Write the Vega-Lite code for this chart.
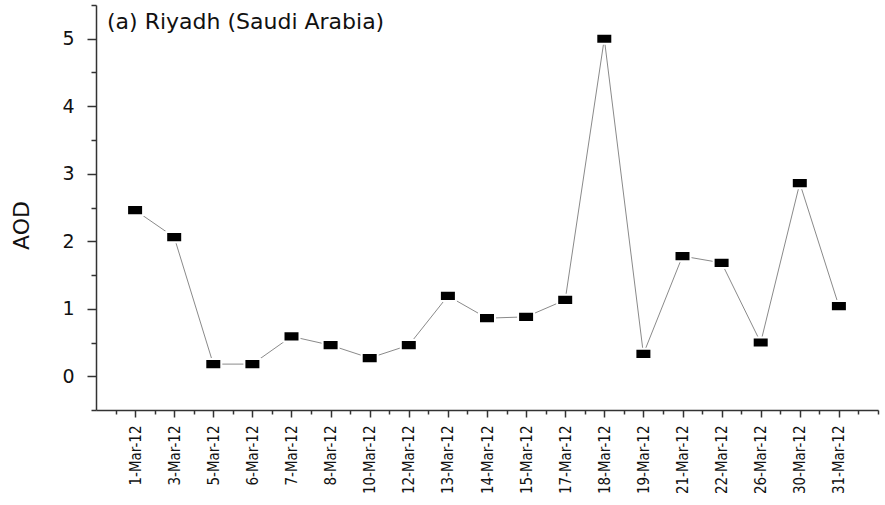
{
  "$schema": "https://vega.github.io/schema/vega-lite/v6.json",
  "autosize": "none",
  "width": 782,
  "height": 405,
  "padding": {"left": 96, "top": 5, "right": 7, "bottom": 95},
  "background": "white",
  "config": {
    "view": {"stroke": null},
    "axis": {"domainColor": "#333", "tickColor": "#333", "domainWidth": 1.5, "tickWidth": 1.5, "grid": false, "labelColor": "#111", "titleColor": "#111"}
  },
  "title": {
    "text": "(a) Riyadh (Saudi Arabia)",
    "anchor": "start",
    "frame": "group",
    "dx": 11,
    "dy": 34,
    "font": "DejaVu Sans",
    "fontSize": 22,
    "fontWeight": "normal",
    "color": "#111"
  },
  "layer": [
    {
      "data": {"values": [
        {"date": "1-Mar-12", "aod": 2.46},
        {"date": "3-Mar-12", "aod": 2.06},
        {"date": "5-Mar-12", "aod": 0.18},
        {"date": "6-Mar-12", "aod": 0.18},
        {"date": "7-Mar-12", "aod": 0.59},
        {"date": "8-Mar-12", "aod": 0.46},
        {"date": "10-Mar-12", "aod": 0.27},
        {"date": "12-Mar-12", "aod": 0.46},
        {"date": "13-Mar-12", "aod": 1.19},
        {"date": "14-Mar-12", "aod": 0.86},
        {"date": "15-Mar-12", "aod": 0.88},
        {"date": "17-Mar-12", "aod": 1.13},
        {"date": "18-Mar-12", "aod": 5.0},
        {"date": "19-Mar-12", "aod": 0.33},
        {"date": "21-Mar-12", "aod": 1.78},
        {"date": "22-Mar-12", "aod": 1.68},
        {"date": "26-Mar-12", "aod": 0.5},
        {"date": "30-Mar-12", "aod": 2.86},
        {"date": "31-Mar-12", "aod": 1.04}
      ]},
      "encoding": {
        "x": {
          "field": "date", "type": "ordinal", "sort": null,
          "scale": {"type": "point", "padding": 1},
          "axis": {
            "title": null, "labelAngle": -90, "tickSize": 7,
            "labelFont": "Liberation Sans Narrow, DejaVu Sans Condensed, Roboto Condensed, Roboto, sans-serif", "labelFontSize": 15,
            "labelPadding": 8
          }
        },
        "y": {
          "field": "aod", "type": "quantitative",
          "scale": {"domain": [-0.5, 5.5], "nice": false, "zero": false},
          "axis": {
            "title": "AOD",
            "titleFont": "DejaVu Sans", "titleFontSize": 22, "titleFontWeight": "normal",
            "titleX": -63, "titleY": 220,
            "values": [-0.5, 0, 0.5, 1, 1.5, 2, 2.5, 3, 3.5, 4, 4.5, 5, 5.5],
            "labelExpr": "datum.value % 1 === 0 ? '' + datum.value : ''",
            "tickSize": {"condition": {"test": "datum.value % 1 === 0", "value": 9}, "value": 5},
            "labelFont": "DejaVu Sans", "labelFontSize": 19, "labelPadding": 13
          }
        }
      },
      "layer": [
        {"mark": {"type": "line", "color": "#8a8a8a", "strokeWidth": 1}},
        {"mark": {"type": "point", "shape": "M-1,-0.64L1,-0.64L1,0.64L-1,0.64Z", "size": 256, "filled": true, "color": "black", "opacity": 1, "stroke": "white", "strokeWidth": 2}}
      ]
    },
    {
      "data": {"values": [{"m": -1}, {"m": 19}]},
      "mark": {"type": "point", "opacity": 0},
      "encoding": {
        "x": {
          "field": "m", "type": "quantitative",
          "scale": {"domain": [-1, 19], "nice": false, "zero": false},
          "axis": {
            "title": null, "labels": false, "domain": false, "tickSize": 4, "orient": "bottom",
            "values": [-0.5, 0.5, 1.5, 2.5, 3.5, 4.5, 5.5, 6.5, 7.5, 8.5, 9.5, 10.5, 11.5, 12.5, 13.5, 14.5, 15.5, 16.5, 17.5, 18.5, 19]
          }
        }
      }
    }
  ],
  "resolve": {"scale": {"x": "independent"}, "axis": {"x": "independent"}}
}
